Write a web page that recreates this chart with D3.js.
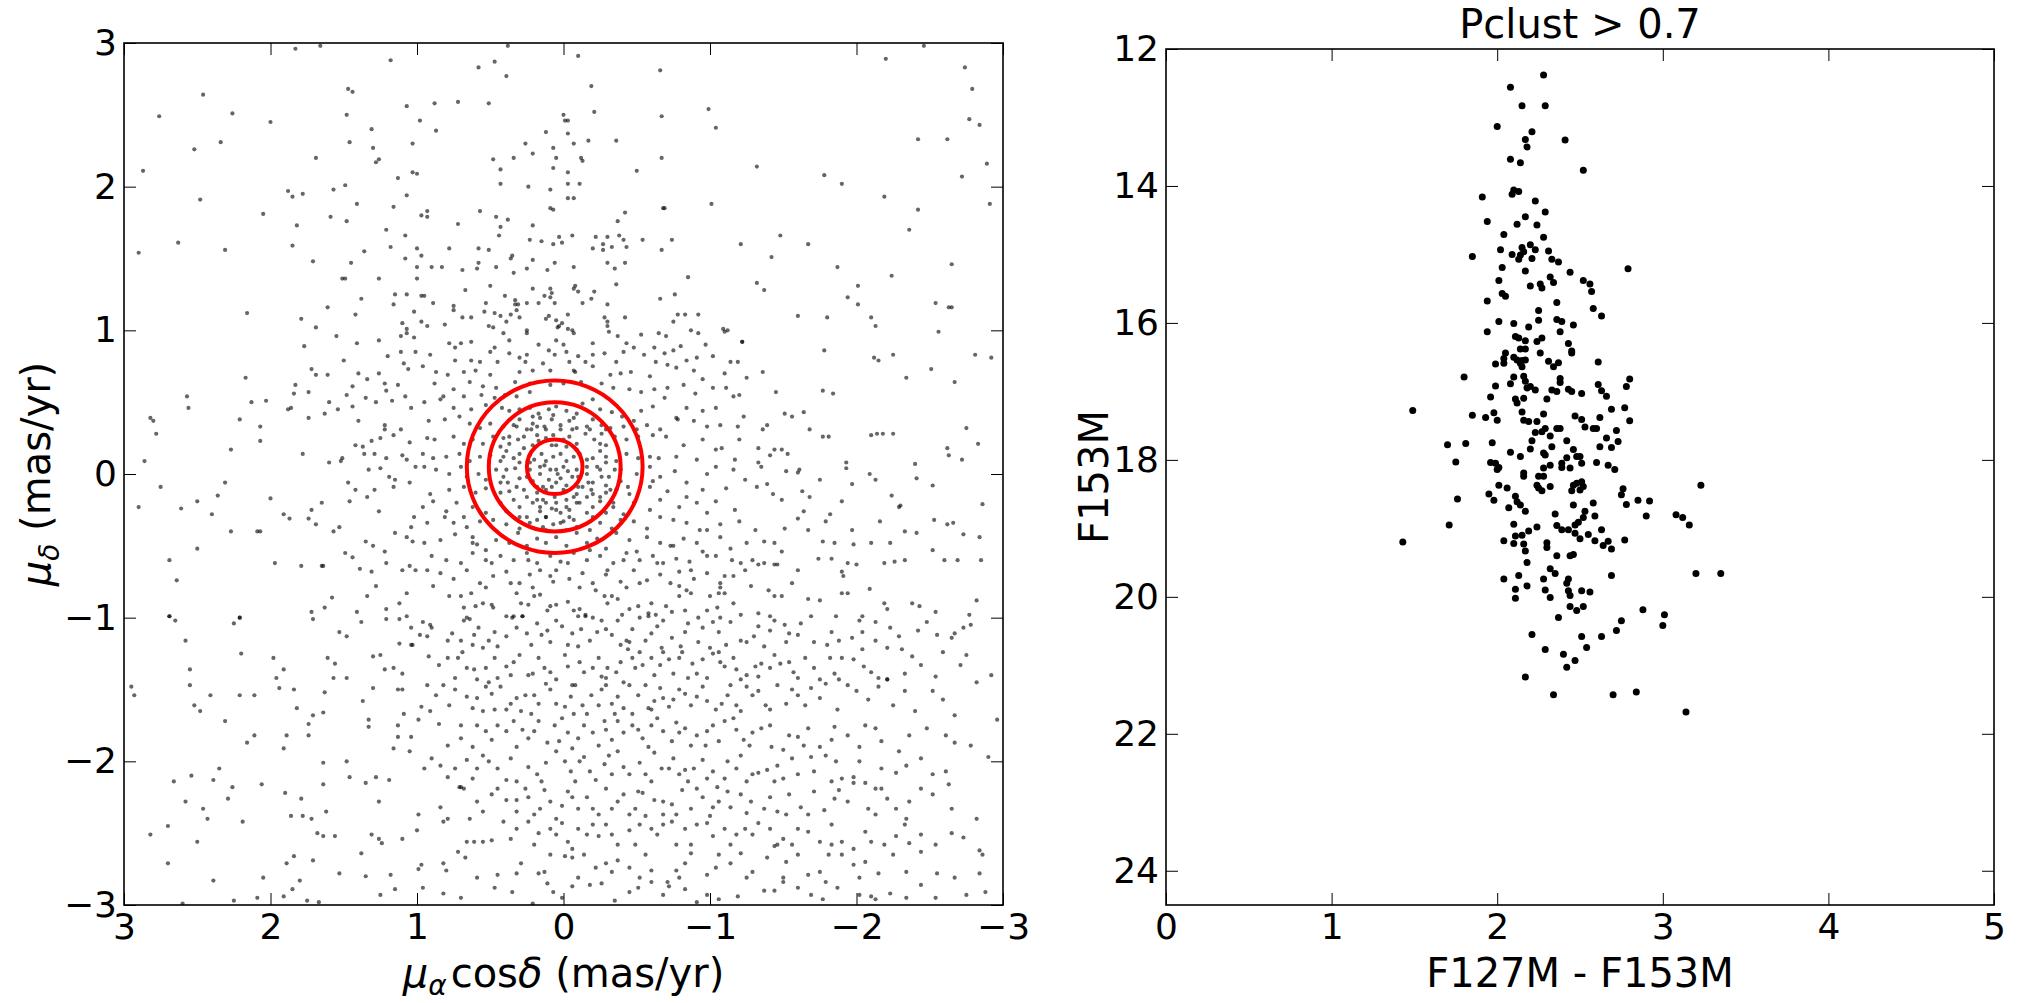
<!DOCTYPE html>
<html>
<head>
<meta charset="utf-8">
<script src="https://cdn.jsdelivr.net/npm/d3@7"></script>
<style>
  body { margin: 0; background: #fff; }
  svg text { font-family: 'DejaVu Sans', sans-serif; }
</style>
</head>
<body>
<svg id="chart" width="2024" height="1003"></svg>
<script>
// proper motions (mas/yr), [mu_alpha cos delta, mu_delta]
const pmTop = [[1.83,2.96],[1.66,2.98],[0.38,2.98],[-0.10,2.91],[-2.46,2.98],[1.18,2.88],[0.58,2.83],[0.47,2.87],[0.39,2.77],[-0.66,2.81],[-2.20,2.89],[-2.74,2.83],[-2.79,2.68],[2.46,2.64],[1.47,2.68],[1.44,2.66],[-0.19,2.70],[2.76,2.49],[2.26,2.51],[2.00,2.45],[1.48,2.50],[1.07,2.56],[0.88,2.58],[0.72,2.59],[0.51,2.58],[0.00,2.50],[-0.01,2.46],[-0.03,2.46],[-0.21,2.52],[-0.67,2.49],[-0.99,2.54],[-1.04,2.41],[-2.77,2.47],[-2.84,2.43],[0.98,2.46],[0.87,2.39],[1.31,2.40],[2.52,2.26],[2.34,2.31],[1.46,2.31],[1.03,2.30],[1.30,2.27],[0.12,2.38],[0.26,2.30],[0.07,2.27],[-0.03,2.37],[-0.07,2.30],[-0.17,2.32],[-0.36,2.32],[-2.42,2.33],[-2.62,2.33],[2.87,2.11],[1.69,2.20],[1.28,2.17],[1.26,2.19],[1.03,2.10],[1.00,2.09],[1.13,2.06],[0.48,2.19],[0.43,2.12],[0.34,2.20],[0.21,2.23],[0.05,2.20],[0.07,2.13],[-0.03,2.10],[-0.12,2.20],[-0.13,2.18],[-0.50,2.11],[-0.67,2.20],[-1.32,2.14],[-1.78,2.08],[-1.90,2.02],[-2.72,2.07],[-2.89,2.16],[2.48,1.91],[1.88,1.97],[1.85,1.93],[1.78,1.95],[1.57,1.98],[1.49,2.01],[1.41,1.88],[1.07,1.94],[0.43,2.02],[0.24,2.00],[0.09,1.98],[-0.03,2.02],[-0.11,2.02],[-0.03,1.92],[-0.07,1.92],[-1.01,1.88],[-2.19,1.93],[-2.91,1.88],[2.05,1.81],[1.82,1.73],[1.59,1.79],[1.48,1.76],[1.16,1.86],[0.97,1.80],[0.93,1.83],[0.93,1.79],[0.72,1.74],[0.57,1.83],[0.46,1.79],[0.38,1.77],[0.43,1.72],[0.09,1.85],[0.07,1.84],[0.21,1.73],[-0.37,1.76],[-0.42,1.82],[-0.68,1.85],[-0.69,1.85],[-2.42,1.84],[-2.36,1.70],[2.90,1.54],[2.63,1.61],[2.31,1.56],[1.85,1.59],[1.71,1.48],[1.45,1.47],[1.36,1.55],[1.21,1.70],[1.08,1.66],[1.18,1.58],[1.08,1.50],[1.00,1.57],[0.97,1.52],[1.00,1.44],[0.90,1.44],[0.83,1.44],[0.78,1.57],[0.69,1.42],[0.58,1.57],[0.58,1.47],[0.59,1.43],[0.51,1.56],[0.44,1.66],[0.46,1.44],[0.36,1.50],[0.35,1.52],[0.34,1.40],[0.25,1.43],[0.23,1.63],[0.21,1.49],[0.15,1.62],[0.11,1.42],[0.07,1.60],[0.06,1.47],[0.03,1.65],[0.01,1.61],[-0.06,1.66],[-0.07,1.44],[-0.20,1.57],[-0.22,1.65],[-0.27,1.60],[-0.27,1.56],[-0.30,1.65],[-0.33,1.58],[-0.30,1.47],[-0.35,1.43],[-0.38,1.66],[-0.41,1.63],[-0.43,1.58],[-0.42,1.47],[-0.54,1.63],[-0.67,1.56],[-0.74,1.63],[-1.21,1.60],[-1.42,1.51],[-1.48,1.66],[-1.67,1.60],[-1.87,1.44],[-2.24,1.38],[-2.65,1.46],[1.51,1.36],[1.49,1.36],[1.26,1.36],[1.00,1.36],[2.16,1.12],[1.79,1.08],[1.69,1.02],[1.61,1.16],[1.42,1.11],[1.38,1.22],[1.16,1.18],[1.15,1.25],[1.07,1.25],[1.02,1.13],[0.97,1.24],[0.95,1.24],[0.89,1.19],[1.10,1.05],[1.07,1.01],[0.97,1.06],[0.93,1.03],[0.81,1.04],[0.75,1.17],[0.75,1.14],[0.69,1.09],[0.63,1.09],[0.67,1.28],[0.53,1.19],[0.50,1.31],[0.54,1.13],[0.47,1.12],[0.51,1.03],[0.48,1.02],[0.43,1.10],[0.39,1.06],[0.40,1.24],[0.36,1.11],[0.33,1.21],[0.33,1.18],[0.31,1.18],[0.32,1.14],[0.30,1.09],[0.25,1.19],[0.25,1.00],[0.21,1.29],[0.17,1.19],[0.13,1.24],[0.12,1.08],[0.10,1.10],[0.09,1.29],[0.08,1.26],[0.09,1.23],[0.06,1.19],[0.05,1.07],[0.03,1.03],[0.01,1.05],[0.04,1.02],[-0.03,1.11],[-0.03,1.01],[-0.06,1.00],[-0.07,1.29],[-0.08,1.31],[-0.10,1.27],[-0.13,1.19],[-0.19,1.22],[-0.21,1.27],[-0.28,1.09],[-0.30,1.06],[-0.30,1.03],[-0.30,1.18],[-0.36,1.32],[-0.42,1.09],[-0.66,1.22],[-0.76,1.25],[-0.78,1.11],[-0.83,1.11],[-0.92,1.11],[-0.75,1.06],[-0.85,1.37],[-0.87,1.00],[-1.09,1.01],[-1.12,1.00],[-1.32,1.33],[-1.37,1.28],[-1.60,1.10],[-1.80,1.09],[-1.94,1.23],[-2.01,1.31],[-2.01,1.18],[-2.10,1.09],[-2.13,1.03],[-2.54,1.19],[-2.63,1.16],[-2.65,1.16],[-2.56,0.99]];

const pmWings = [[1.55,0.96],[1.41,0.91],[1.26,0.93],[1.11,0.96],[1.07,0.98],[1.02,0.95],[1.77,0.89],[1.20,0.82],[1.11,0.85],[1.01,0.85],[1.50,0.79],[1.09,0.77],[1.72,0.73],[1.69,0.69],[1.61,0.69],[2.17,0.67],[1.40,0.70],[1.34,0.66],[1.26,0.70],[1.22,0.63],[1.13,0.62],[1.06,0.73],[1.83,0.62],[1.74,0.57],[1.84,0.56],[2.57,0.54],[2.56,0.46],[2.13,0.50],[2.03,0.51],[1.88,0.45],[1.86,0.46],[1.60,0.50],[1.48,0.55],[1.44,0.61],[1.44,0.47],[1.35,0.53],[1.28,0.50],[1.21,0.58],[1.17,0.51],[1.08,0.54],[1.04,0.46],[2.82,0.39],[2.80,0.37],[2.78,0.28],[2.21,0.38],[2.07,0.33],[2.07,0.23],[1.74,0.39],[1.63,0.42],[1.54,0.45],[1.40,0.37],[1.31,0.23],[1.25,0.25],[1.22,0.34],[1.22,0.31],[1.16,0.27],[1.11,0.31],[1.05,0.22],[2.86,0.09],[2.27,0.17],[1.78,0.14],[1.51,0.11],[1.52,0.09],[1.60,0.08],[1.42,0.20],[1.37,0.19],[1.36,0.14],[1.29,0.14],[1.21,0.11],[1.33,0.03],[1.25,0.04],[1.19,-0.02],[1.15,-0.04],[1.10,0.13],[1.07,0.10],[1.01,0.05],[2.75,-0.09],[2.31,-0.06],[2.90,-0.23],[2.61,-0.24],[2.50,-0.19],[2.40,-0.28],[2.36,-0.15],[2.00,-0.17],[1.91,-0.28],[1.87,-0.31],[1.74,-0.31],[1.72,-0.25],[1.69,-0.35],[1.65,-0.20],[1.57,-0.40],[1.53,-0.37],[1.47,-0.06],[1.46,-0.19],[1.42,-0.11],[1.34,-0.16],[1.29,-0.11],[1.26,-0.26],[2.27,-0.40],[2.09,-0.40],[2.07,-0.40],[2.50,-0.52],[2.69,-0.60],[2.64,-0.74],[1.97,-0.62],[1.79,-0.64],[1.65,-0.64],[1.64,-0.64],[1.49,-0.55],[1.44,-0.58],[1.35,-0.47],[1.30,-0.50],[1.22,-0.54],[1.15,-0.41],[1.07,-0.44],[1.03,-0.47],[1.39,-0.66],[1.31,-0.68],[1.21,-0.62],[1.10,-0.67],[1.05,-0.64],[1.01,-0.67],[1.58,-0.86],[1.34,-0.85],[1.28,-0.78],[1.07,-0.83],[2.69,-0.99],[2.21,-1.00],[1.72,-0.96],[1.63,-0.93],[1.41,-0.96],[1.21,-0.94],[1.12,-0.90],[1.07,-0.99],[1.16,-0.09],[1.05,-0.06],[1.02,-0.30],[1.04,-0.37],
  [-1.22,0.92],[-1.36,0.71],[-1.25,0.67],[-1.45,0.57],[-1.78,0.86],[-1.77,0.58],[-1.84,0.56],[-2.12,0.81],[-2.15,0.79],[-2.25,0.83],[-2.34,0.67],[-2.51,0.73],[-2.67,0.64],[-2.81,0.83],[-2.92,0.81],[-1.51,0.42],[-1.56,0.40],[-1.64,0.43],[-1.39,0.34],[-1.36,0.31],[-1.68,0.31],[-1.77,0.26],[-1.81,0.26],[-2.10,0.27],[-2.14,0.28],[-2.18,0.28],[-2.25,0.28],[-2.75,0.32],[-2.83,0.21],[-1.33,0.18],[-1.44,0.17],[-1.49,0.17],[-1.53,0.14],[-1.41,0.13],[-1.33,0.08],[-1.35,0.05],[-1.52,0.02],[-1.60,0.01],[-1.61,0.03],[-1.75,-0.04],[-1.93,0.08],[-1.93,0.04],[-1.97,-0.07],[-2.09,0.00],[-2.13,-0.04],[-2.40,0.07],[-2.41,-0.03],[-2.62,0.18],[-2.63,0.13],[-2.72,0.10],[-2.52,-0.08],[-1.32,-0.09],[-1.39,-0.07],[-1.43,-0.14],[-1.49,-0.18],[-1.63,-0.12],[-1.64,-0.26],[-1.68,-0.16],[-1.90,-0.19],[-1.82,-0.28],[-1.79,-0.33],[-2.24,-0.15],[-2.30,-0.22],[-2.29,-0.23],[-2.16,-0.33],[-2.53,-0.32],[-2.62,-0.35],[-2.66,-0.34],[-2.86,-0.21],[-1.31,-0.39],[-1.37,-0.47],[-1.44,-0.48],[-1.51,-0.38],[-1.60,-0.31],[-1.67,-0.39],[-1.77,-0.47],[-1.85,-0.48],[-1.97,-0.39],[-1.98,-0.49],[-2.10,-0.48],[-2.23,-0.48],[-2.33,-0.40],[-2.41,-0.41],[-2.73,-0.42],[-2.84,-0.44],[-1.29,-0.60],[-1.33,-0.63],[-1.37,-0.62],[-1.44,-0.63],[-1.46,-0.63],[-1.49,-0.54],[-1.60,-0.67],[-1.74,-0.59],[-1.83,-0.59],[-1.90,-0.68],[-1.91,-0.71],[-1.94,-0.62],[-2.00,-0.63],[-2.19,-0.62],[-2.26,-0.61],[-2.33,-0.60],[-2.52,-0.53],[-2.60,-0.60],[-2.69,-0.60],[-2.85,-0.60],[-1.28,-0.78],[-1.40,-0.81],[-1.44,-0.85],[-1.49,-0.85],[-1.56,-0.76],[-1.67,-0.87],[-1.75,-0.88],[-1.90,-0.83],[-1.94,-0.83],[-2.09,-0.80],[-2.19,-0.90],[-2.21,-0.94],[-2.38,-0.90],[-2.43,-0.92],[-2.82,-0.88],[-1.33,-0.97],[-1.41,-0.99],[-1.69,-0.99],[-1.86,-0.99],[-2.04,-0.99],[-2.54,-0.96],[-2.77,-0.98],
  [0.78,-0.85],[0.70,-0.85],[0.63,-0.83],[0.68,-0.93],[0.66,-1.00],[0.60,-0.92],[0.49,-0.91],[0.48,-0.93],[0.39,-0.99],[0.34,-0.99],[0.28,-0.99],[0.29,-0.90],[0.24,-0.91],[0.20,-0.85],[0.11,-0.95],[0.05,-0.91],[-0.03,-0.89],[-0.07,-0.95],[-0.11,-0.94],[-0.15,-0.98],[-0.20,-1.00],[-0.28,-0.85],[-0.33,-0.85],[-0.37,-0.87],[-0.45,-0.94],[-0.51,-0.92],[-0.58,-0.97],[-0.63,-0.98],[-0.70,-0.92],[-0.74,-0.96],[-0.79,-0.85],[-0.84,-0.81],[-0.87,-0.83],[-0.92,-1.00],[-0.98,-0.95],[-1.05,-0.93],[-1.07,-1.00],[-1.16,-0.90],[-1.21,-0.98],[0.16,-0.84],[0.09,-0.92],[-0.30,-0.90],[-0.40,-0.98],[-1.00,-0.85],[-1.10,-0.83]];

const pmCore = [[0.41,0.98],[0.37,0.93],[0.47,0.88],[0.50,0.85],[0.25,0.98],[0.17,0.90],[0.05,0.93],[0.00,0.90],[-0.07,0.98],[-0.20,0.91],[-0.31,0.99],[-0.37,0.96],[-0.43,0.91],[-0.53,0.97],[-0.65,0.98],[-0.70,0.96],[-0.62,0.88],[-0.69,0.84],[-0.92,0.98],[-1.10,0.99],[-1.22,0.92],[0.78,0.91],[0.74,0.88],[0.70,0.91],[0.63,0.92],[0.37,0.84],[0.30,0.81],[0.25,0.83],[0.10,0.86],[0.06,0.83],[-0.02,0.85],[-0.10,0.82],[-0.20,0.83],[-0.28,0.84],[-0.41,0.85],[-0.48,0.88],[-0.55,0.83],[-0.75,0.86],[-0.80,0.89],[-0.84,0.79],[-0.97,0.90],[-1.02,0.82],[-1.14,0.78],[0.91,0.83],[0.74,0.79],[0.63,0.79],[0.57,0.78],[0.45,0.78],[0.26,0.78],[0.14,0.77],[-0.04,0.78],[-0.15,0.78],[-0.36,0.78],[-0.63,0.78],[-0.91,0.81],
  [0.96,0.75],[0.87,0.71],[0.79,0.69],[0.68,0.71],[0.60,0.72],[0.50,0.69],[0.30,0.71],[0.21,0.72],[0.09,0.72],[-0.07,0.72],[-0.08,0.71],[-0.20,0.75],[-0.32,0.69],[-0.39,0.70],[-0.46,0.71],[-0.59,0.68],[-0.71,0.76],[-0.77,0.74],[-0.89,0.72],[-0.95,0.66],[-1.10,0.70],[-1.19,0.78],[0.88,0.63],[0.82,0.54],[0.75,0.59],[0.64,0.64],[0.55,0.61],[0.46,0.60],[0.33,0.64],[0.23,0.63],[0.09,0.62],[0.00,0.63],[-0.12,0.64],[-0.26,0.63],[-0.34,0.60],[-0.45,0.59],[-0.53,0.57],[-0.62,0.59],[-0.71,0.60],[-0.82,0.62],[-0.90,0.56],[-1.02,0.60],[-1.11,0.60],[-1.20,0.55],[0.95,0.50],[0.68,0.54],[0.56,0.55],[0.47,0.53],[0.40,0.55],[0.32,0.54],[0.23,0.57],
  [0.84,0.52],[0.75,0.46],[0.71,0.40],[0.63,0.45],[0.53,0.48],[0.42,0.46],[0.37,0.44],[0.30,0.45],[0.23,0.46],[0.17,0.42],[0.10,0.45],[0.05,0.47],[-0.02,0.44],[-0.09,0.42],[-0.13,0.49],[-0.20,0.52],[-0.25,0.45],[-0.33,0.43],[-0.40,0.40],[-0.48,0.37],[-0.53,0.44],[-0.61,0.47],[-0.69,0.53],[-0.77,0.39],[-0.84,0.46],[-0.95,0.44],[-1.04,0.46],[-1.16,0.54],[-1.23,0.40],[0.92,0.37],[0.81,0.38],[0.64,0.35],[0.57,0.32],[0.50,0.35],[0.41,0.33],[0.34,0.34],[0.30,0.38],[0.25,0.31],[0.21,0.35],[0.16,0.39],[0.13,0.33],[0.08,0.38],[0.02,0.34],[-0.04,0.37],[-0.09,0.32],[-0.16,0.33],[-0.20,0.38],[-0.26,0.34],[-0.32,0.32],[-0.41,0.33],[-0.50,0.31],[-0.57,0.34],[-0.66,0.31],[-0.78,0.38],[-0.89,0.37],[-0.98,0.33],[-1.07,0.34],[-1.19,0.33],
  [0.93,0.25],[0.88,0.24],[0.75,0.26],[0.68,0.21],[0.62,0.24],[0.55,0.21],[0.48,0.26],[0.41,0.25],[0.37,0.21],[0.31,0.24],[0.27,0.18],[0.22,0.31],[0.18,0.27],[0.17,0.23],[0.12,0.25],[0.07,0.27],[0.05,0.20],[0.00,0.24],[-0.04,0.26],[-0.09,0.21],[-0.15,0.28],[-0.21,0.24],[-0.26,0.28],[-0.29,0.20],[-0.35,0.26],[-0.43,0.24],[-0.51,0.26],[-0.61,0.27],[-0.70,0.26],[-0.82,0.20],[-0.95,0.24],[-1.08,0.18],[-1.20,0.24],[0.96,0.14],[0.89,0.11],[0.80,0.12],[0.71,0.14],[0.64,0.09],[0.57,0.12],[0.50,0.13],[0.43,0.09],[0.39,0.16],[0.34,0.11],[0.30,0.14],[0.23,0.13],[0.20,0.10],[0.15,0.14],[0.12,0.09],[0.07,0.12],[0.02,0.14],[-0.02,0.09],[-0.07,0.12],[-0.11,0.14],[-0.16,0.10],[-0.20,0.11],[-0.25,0.16],[-0.29,0.12],[-0.36,0.09],[-0.43,0.14],[-0.51,0.11],[-0.59,0.12],[-0.65,0.11],[-0.77,0.12],[-0.91,0.10],[-1.04,0.17],[-1.17,0.10],
  [0.95,0.05],[0.87,0.03],[0.78,0.00],[0.70,0.05],[0.66,-0.02],[0.58,0.00],[0.53,-0.04],[0.46,0.03],[0.41,-0.02],[0.38,-0.06],[0.33,0.04],[0.30,-0.03],[0.23,0.03],[0.21,-0.05],[0.16,0.00],[0.13,0.06],[0.10,-0.04],[0.08,-0.09],[0.05,0.03],[0.02,-0.03],[0.00,0.05],[-0.02,-0.08],[-0.06,-0.02],[-0.09,0.03],[-0.10,-0.09],[-0.16,0.00],[-0.17,-0.06],[-0.19,-0.11],[-0.23,0.05],[-0.26,-0.02],[-0.29,-0.08],[-0.35,0.03],[-0.39,-0.05],[-0.44,-0.09],[-0.50,0.00],[-0.59,0.05],[-0.61,-0.05],[-0.66,-0.02],[-0.76,0.02],[-0.84,-0.06],[-0.98,0.00],[-1.04,0.05],[-1.16,0.03],[-1.24,-0.04],[0.91,-0.14],[0.78,-0.11],[0.68,-0.09],[0.60,-0.13],[0.53,-0.10],[0.43,-0.13],[0.37,-0.12],[0.27,-0.11],[0.18,-0.13],[0.14,-0.09],[0.06,-0.16],[-0.02,-0.12],[-0.09,-0.14],[-0.20,-0.14],[-0.29,-0.13],[-0.36,-0.11],[-0.45,-0.14],[-0.59,-0.09],[-0.71,-0.12],[-0.84,-0.16],[-0.95,-0.11],[-1.11,-0.10],
  [0.96,-0.23],[0.89,-0.19],[0.80,-0.26],[0.73,-0.20],[0.68,-0.30],[0.62,-0.23],[0.53,-0.27],[0.43,-0.20],[0.39,-0.26],[0.34,-0.18],[0.30,-0.23],[0.25,-0.30],[0.21,-0.20],[0.16,-0.26],[0.14,-0.18],[0.12,-0.30],[0.08,-0.24],[0.05,-0.20],[0.02,-0.27],[-0.02,-0.18],[-0.04,-0.25],[-0.07,-0.32],[-0.11,-0.20],[-0.16,-0.27],[-0.20,-0.23],[-0.25,-0.19],[-0.29,-0.27],[-0.34,-0.23],[-0.41,-0.28],[-0.48,-0.20],[-0.59,-0.25],[-0.66,-0.18],[-0.79,-0.23],[-0.91,-0.20],[-0.98,-0.27],[-1.04,-0.19],[-1.17,-0.25],[0.93,-0.34],[0.81,-0.30],[0.75,-0.34],[0.66,-0.37],[0.57,-0.33],[0.48,-0.32],[0.39,-0.35],[0.30,-0.38],[0.23,-0.34],[0.18,-0.32],[0.14,-0.37],[0.07,-0.35],[0.00,-0.33],[-0.09,-0.37],[-0.18,-0.39],[-0.25,-0.34],[-0.33,-0.38],[-0.39,-0.32],[-0.48,-0.33],[-0.57,-0.38],[-0.66,-0.30],[-0.75,-0.32],[-0.84,-0.34],[-0.93,-0.39],[-1.07,-0.35],[-1.20,-0.33],
  [0.95,-0.48],[0.84,-0.46],[0.74,-0.42],[0.62,-0.44],[0.59,-0.49],[0.53,-0.53],[0.46,-0.46],[0.37,-0.48],[0.31,-0.41],[0.25,-0.50],[0.18,-0.45],[0.12,-0.48],[0.05,-0.44],[-0.02,-0.50],[-0.09,-0.41],[-0.16,-0.48],[-0.23,-0.45],[-0.29,-0.52],[-0.36,-0.41],[-0.45,-0.46],[-0.50,-0.54],[-0.57,-0.44],[-0.66,-0.48],[-0.73,-0.50],[-0.82,-0.45],[-0.91,-0.48],[-0.98,-0.39],[-1.07,-0.44],[-1.14,-0.52],[-1.25,-0.48],[0.90,-0.57],[0.80,-0.60],[0.70,-0.62],[0.62,-0.55],[0.53,-0.60],[0.43,-0.57],[0.34,-0.60],[0.25,-0.55],[0.18,-0.62],[0.09,-0.57],[0.02,-0.61],[-0.07,-0.55],[-0.16,-0.60],[-0.25,-0.57],[-0.34,-0.62],[-0.43,-0.55],[-0.52,-0.60],[-0.61,-0.57],[-0.68,-0.62],[-0.77,-0.59],[-0.86,-0.61],[-0.95,-0.54],[-1.04,-0.57],[-1.15,-0.60],
  [0.93,-0.67],[0.84,-0.69],[0.75,-0.73],[0.66,-0.67],[0.57,-0.76],[0.48,-0.71],[0.39,-0.68],[0.30,-0.76],[0.23,-0.70],[0.16,-0.67],[0.07,-0.75],[0.05,-0.67],[-0.04,-0.73],[-0.13,-0.69],[-0.20,-0.76],[-0.29,-0.70],[-0.39,-0.75],[-0.48,-0.67],[-0.57,-0.74],[-0.66,-0.70],[-0.73,-0.76],[-0.79,-0.68],[-0.89,-0.73],[-0.98,-0.69],[-1.07,-0.76],[-1.16,-0.71],[-1.24,-0.67],[0.89,-0.78],[0.53,-0.79],[0.21,-0.79],[-0.11,-0.79],[-0.43,-0.79],[-0.79,-0.78],[-1.07,-0.79],
  [0.18,0.33],[0.12,0.31],[0.02,0.31],[-0.06,0.31],[0.27,0.26],[0.21,0.20],[0.08,0.20],[-0.02,0.19],[-0.09,0.17],[0.30,0.08],[0.23,0.08],[0.16,0.05],[0.09,0.03],[0.04,0.00],[-0.03,0.02],[-0.10,-0.02],[-0.16,0.05],[0.25,-0.02],[0.18,-0.09],[0.12,-0.11],[0.05,-0.06],[0.00,-0.11],[-0.07,-0.16],[-0.13,-0.09],[0.32,-0.09],[0.25,-0.16],[0.18,-0.18],[0.12,-0.20],[0.05,-0.25],[-0.02,-0.23],[-0.09,-0.20],[-0.16,-0.16],[-0.20,-0.06],[-0.25,0.03],[-0.29,0.08],[0.39,0.03],[0.41,0.12],[0.37,0.26],[0.32,0.33],[0.21,0.40],[0.07,0.41],[-0.07,0.39],[-0.18,0.31],[-0.25,0.21],[-0.31,-0.02],[-0.32,-0.11],[-0.25,-0.16],[0.12,-0.30],[0.02,-0.34],[-0.04,-0.30],[0.16,-0.23],[-0.20,-0.30],[0.30,-0.30],[0.43,-0.06],[0.43,0.19],[-0.29,0.31],[-0.39,0.03],[-0.34,-0.20],[-0.02,-0.39],[0.12,-0.39]];

const pmLower = [[2.69,-0.99],[2.65,-1.02],[2.25,-1.04],[2.21,-1.00],[1.71,-1.01],[1.53,-1.10],[1.48,-1.13],[1.38,-1.03],[1.21,-1.01],[1.12,-1.01],[1.04,-1.07],[0.96,-1.03],[0.90,-1.07],[0.98,-1.12],[0.93,-1.13],[0.79,-1.16],[0.68,-1.02],[0.64,-1.01],[0.58,-1.07],[0.70,-1.16],[0.62,-1.19],[0.51,-1.16],[0.47,-1.10],[0.39,-1.13],[0.35,-1.00],[0.28,-0.99],[0.32,-1.07],[0.25,-1.11],[0.18,-1.04],[0.11,-1.09],[0.01,-1.06],[-0.06,-1.11],[-0.10,-0.99],[-0.15,-0.99],[-0.18,-1.16],[-0.26,-1.02],[-0.29,-1.08],[-0.37,-1.02],[-0.33,-1.12],[-0.45,-1.17],[-0.43,-1.16],[-0.52,-1.00],[-0.58,-0.99],[-0.64,-1.06],[-0.68,-1.02],[-0.60,-1.11],[-0.74,-1.14],[-0.85,-1.04],[-0.83,-1.10],[-0.95,-1.07],[-1.02,-1.03],[-1.06,-1.10],[-1.14,-1.03],[-1.21,-1.16],[-1.25,-1.17],[-1.33,-1.06],[-1.37,-1.20],[-1.44,-1.02],[-1.54,-1.11],[-1.52,-1.17],[-1.62,-1.04],[-1.71,-1.17],[-1.83,-1.10],[-1.88,-1.16],[-2.02,-1.02],[-2.04,-1.10],[-2.13,-1.03],[-2.23,-1.07],[-2.42,-1.09],[-2.55,-1.12],[-2.65,-1.14],[-2.67,-1.11],[-2.73,-1.07],[-2.78,-1.05],[2.58,-1.16],[1.03,-1.19],[1.12,-1.18],[0.55,-1.21],[0.09,-1.17],[-0.10,-1.20],
  [2.20,-1.25],[1.98,-1.28],[1.61,-1.28],[1.56,-1.32],[1.30,-1.27],[1.25,-1.26],[1.22,-1.36],[1.16,-1.35],[1.04,-1.19],[0.92,-1.27],[0.79,-1.28],[0.74,-1.42],[0.69,-1.24],[0.66,-1.35],[0.59,-1.43],[0.53,-1.35],[0.47,-1.28],[0.45,-1.42],[0.39,-1.34],[0.34,-1.31],[0.24,-1.40],[0.21,-1.39],[0.13,-1.35],[0.09,-1.38],[-0.03,-1.34],[-0.06,-1.47],[-0.14,-1.38],[-0.20,-1.35],[-0.26,-1.41],[-0.30,-1.35],[-0.36,-1.38],[-0.41,-1.45],[-0.47,-1.28],[-0.49,-1.35],[-0.52,-1.24],[-0.60,-1.28],[-0.62,-1.40],[-0.68,-1.24],[-0.72,-1.29],[-0.79,-1.28],[-0.85,-1.42],[-0.91,-1.39],[-0.95,-1.29],[-1.02,-1.25],[-1.07,-1.31],[-1.10,-1.34],[-1.18,-1.36],[-1.25,-1.40],[-1.31,-1.34],[-1.35,-1.32],[-1.41,-1.35],[-1.48,-1.32],[-1.54,-1.31],[-1.60,-1.42],[-1.65,-1.28],[-1.75,-1.43],[-1.82,-1.28],[-1.90,-1.28],[-1.98,-1.29],[-2.05,-1.34],[-2.15,-1.42],[-2.21,-1.43],[-2.33,-1.39],[-2.44,-1.33],[-2.54,-1.41],[-2.71,-1.33],[-2.75,-1.26],[-2.92,-1.40],[-2.31,-1.22],[-2.21,-1.21],[-2.04,-1.22],[2.55,-1.36],[2.55,-1.47],[1.96,-1.42],[1.91,-1.36],[1.57,-1.42],[1.48,-1.42],[1.10,-1.39],
  [2.95,-1.48],[2.93,-1.54],[2.41,-1.54],[2.21,-1.54],[2.11,-1.54],[1.94,-1.49],[1.84,-1.50],[1.63,-1.52],[1.37,-1.58],[1.30,-1.49],[1.13,-1.50],[1.10,-1.50],[0.93,-1.47],[0.82,-1.47],[0.87,-1.54],[0.78,-1.61],[0.66,-1.55],[0.59,-1.56],[0.49,-1.53],[0.43,-1.48],[0.32,-1.56],[0.26,-1.54],[0.20,-1.54],[0.12,-1.46],[0.05,-1.60],[-0.01,-1.62],[-0.08,-1.47],[-0.19,-1.54],[-0.24,-1.61],[-0.29,-1.47],[-0.37,-1.55],[-0.45,-1.47],[-0.47,-1.67],[-0.56,-1.47],[-0.62,-1.58],[-0.68,-1.56],[-0.72,-1.62],[-0.79,-1.50],[-0.83,-1.53],[-0.91,-1.55],[-0.98,-1.58],[-1.04,-1.64],[-1.12,-1.54],[-1.18,-1.61],[-1.25,-1.48],[-1.29,-1.54],[-1.38,-1.61],[-1.46,-1.47],[-1.52,-1.60],[-1.60,-1.54],[-1.69,-1.49],[-1.79,-1.46],[-1.88,-1.43],[-1.94,-1.47],[-2.08,-1.57],[-2.15,-1.48],[-2.21,-1.43],[-2.33,-1.51],[-2.40,-1.65],[-2.52,-1.51],[-2.67,-1.68],[-2.82,-1.45],[-2.96,-1.71],[2.52,-1.61],[2.48,-1.65],[2.31,-1.72],[1.82,-1.63],[1.64,-1.66],[1.71,-1.68],[1.33,-1.71],[1.09,-1.67],[0.97,-1.62],[0.91,-1.65],[0.55,-1.65],[0.47,-1.64],[0.39,-1.64],[0.22,-1.67],[-0.07,-1.67],[-0.16,-1.67],[-0.35,-1.67],[-0.60,-1.64],
  [2.16,-1.87],[2.11,-1.82],[1.89,-1.82],[1.91,-1.91],[1.74,-1.74],[1.74,-1.82],[1.33,-1.76],[1.13,-1.75],[1.13,-1.83],[1.04,-1.83],[0.99,-1.71],[0.85,-1.74],[0.79,-1.89],[0.70,-1.84],[0.59,-1.75],[0.53,-1.79],[0.45,-1.75],[0.34,-1.72],[0.28,-1.78],[0.24,-1.84],[0.17,-1.72],[0.06,-1.75],[0.03,-1.86],[-0.03,-1.80],[-0.06,-1.91],[-0.14,-1.75],[-0.20,-1.80],[-0.28,-1.72],[-0.33,-1.85],[-0.41,-1.80],[-0.47,-1.75],[-0.54,-1.84],[-0.60,-1.75],[-0.68,-1.79],[-0.74,-1.86],[-0.79,-1.80],[-0.83,-1.77],[-0.91,-1.82],[-0.97,-1.89],[-1.02,-1.75],[-1.10,-1.72],[-1.18,-1.78],[-1.23,-1.85],[-1.29,-1.80],[-1.35,-1.77],[-1.42,-1.90],[-1.50,-1.92],[-1.60,-1.83],[-1.67,-1.77],[-1.75,-1.90],[-1.85,-1.76],[-1.94,-1.82],[-2.06,-1.75],[-2.17,-1.86],[-2.29,-1.93],[-2.36,-1.82],[-2.48,-1.77],[-2.61,-1.82],[-2.67,-1.87],[-2.78,-1.89],[-2.90,-1.97],
  [1.64,-2.01],[1.48,-2.00],[1.46,-2.11],[1.35,-2.15],[1.28,-2.11],[1.19,-2.13],[1.16,-1.91],[1.05,-1.93],[0.95,-2.05],[0.90,-1.98],[0.84,-2.03],[0.79,-2.11],[0.70,-2.18],[0.66,-1.99],[0.59,-2.05],[0.51,-2.00],[0.45,-2.05],[0.39,-2.13],[0.32,-2.14],[0.26,-2.19],[0.18,-2.09],[0.12,-2.01],[0.05,-1.93],[-0.01,-2.00],[-0.08,-2.14],[-0.14,-1.97],[-0.18,-2.07],[-0.28,-2.02],[-0.33,-2.09],[-0.37,-1.93],[-0.45,-2.09],[-0.51,-2.21],[-0.56,-2.09],[-0.62,-1.94],[-0.67,-2.05],[-0.72,-2.05],[-0.79,-2.09],[-0.85,-2.14],[-0.89,-2.05],[-0.95,-1.99],[-1.02,-2.07],[-1.05,-2.18],[-1.10,-2.12],[-1.18,-2.05],[-1.25,-2.14],[-1.33,-2.08],[-1.39,-2.06],[-1.46,-2.03],[-1.50,-2.12],[-1.60,-2.09],[-1.69,-1.97],[-1.79,-1.96],[-1.86,-2.00],[-1.90,-2.12],[-1.98,-2.11],[-2.06,-2.15],[-2.13,-2.19],[-2.27,-2.08],[-2.34,-2.03],[-2.44,-1.98],[-2.52,-2.09],[-2.61,-2.07],[-2.63,-2.16],[2.66,-2.14],[2.54,-2.10],[2.39,-2.13],[2.35,-2.05],[2.06,-2.16],[1.64,-2.16],
  [2.58,-2.28],[2.46,-2.33],[2.43,-2.40],[2.29,-2.26],[2.26,-2.18],[2.19,-2.42],[1.90,-2.22],[1.86,-2.38],[1.79,-2.26],[1.78,-2.38],[1.72,-2.40],[1.62,-2.35],[1.26,-2.28],[0.99,-2.37],[0.84,-2.32],[0.79,-2.40],[0.71,-2.18],[0.68,-2.19],[0.64,-2.40],[0.59,-2.28],[0.49,-2.23],[0.39,-2.27],[0.32,-2.35],[0.24,-2.25],[0.16,-2.33],[0.09,-2.28],[0.05,-2.40],[-0.03,-2.21],[-0.10,-2.33],[-0.16,-2.25],[-0.24,-2.37],[-0.33,-2.33],[-0.41,-2.23],[-0.49,-2.33],[-0.56,-2.38],[-0.62,-2.27],[-0.68,-2.37],[-0.74,-2.30],[-0.81,-2.20],[-0.87,-2.33],[-0.95,-2.25],[-1.00,-2.38],[-1.06,-2.28],[-1.14,-2.32],[-1.21,-2.23],[-1.28,-2.28],[-1.37,-2.33],[-1.46,-2.35],[-1.54,-2.23],[-1.62,-2.32],[-1.67,-2.37],[-1.78,-2.34],[-1.85,-2.26],[-1.88,-2.20],[-1.98,-2.15],[-2.08,-2.33],[-2.13,-2.37],[-2.21,-2.26],[-2.27,-2.33],[-2.34,-2.40],[-2.44,-2.19],[-2.52,-2.23],[-2.65,-2.33],[-2.82,-2.40],
  [2.82,-2.51],[2.70,-2.45],[2.50,-2.56],[1.68,-2.50],[1.64,-2.52],[1.56,-2.52],[1.31,-2.51],[1.26,-2.54],[1.24,-2.57],[1.10,-2.54],[1.00,-2.48],[0.82,-2.42],[0.72,-2.63],[0.66,-2.56],[0.61,-2.56],[0.55,-2.56],[0.49,-2.55],[0.41,-2.42],[0.32,-2.47],[0.24,-2.42],[0.17,-2.50],[0.09,-2.47],[0.01,-2.43],[-0.03,-2.56],[-0.10,-2.47],[-0.16,-2.51],[-0.24,-2.52],[-0.29,-2.44],[-0.37,-2.58],[-0.45,-2.48],[-0.52,-2.44],[-0.60,-2.47],[-0.68,-2.44],[-0.77,-2.58],[-0.83,-2.47],[-0.91,-2.44],[-1.02,-2.52],[-1.10,-2.47],[-1.18,-2.51],[-1.24,-2.47],[-1.33,-2.43],[-1.41,-2.47],[-1.44,-2.59],[-1.50,-2.54],[-1.60,-2.47],[-1.67,-2.49],[-1.75,-2.56],[-1.83,-2.58],[-1.90,-2.56],[-1.98,-2.61],[-2.10,-2.56],[-2.19,-2.58],[-2.27,-2.52],[-2.36,-2.57],[-2.44,-2.51],[-2.54,-2.58],[-2.65,-2.50],[-2.73,-2.53],[-2.84,-2.62],
  [2.70,-2.71],[2.39,-2.83],[2.05,-2.81],[1.89,-2.71],[1.84,-2.66],[1.80,-2.83],[1.71,-2.69],[1.53,-2.78],[1.38,-2.64],[1.35,-2.80],[1.18,-2.79],[0.99,-2.75],[0.97,-2.72],[0.82,-2.71],[0.80,-2.76],[0.67,-2.67],[0.59,-2.81],[0.45,-2.79],[0.29,-2.71],[0.17,-2.78],[0.13,-2.77],[0.11,-2.85],[-0.01,-2.66],[-0.06,-2.67],[-0.14,-2.65],[-0.22,-2.74],[-0.29,-2.71],[-0.37,-2.69],[-0.45,-2.74],[-0.52,-2.81],[-0.60,-2.76],[-0.71,-2.84],[-0.77,-2.76],[-0.83,-2.71],[-0.87,-2.64],[-0.98,-2.79],[-1.04,-2.74],[-1.14,-2.71],[-1.21,-2.64],[-1.29,-2.77],[-1.39,-2.67],[-1.46,-2.58],[-1.50,-2.81],[-1.60,-2.65],[-1.67,-2.79],[-1.79,-2.84],[-1.81,-2.65],[-1.90,-2.65],[-1.98,-2.72],[-2.06,-2.70],[-2.15,-2.78],[-2.25,-2.65],[-2.34,-2.77],[-2.44,-2.63],[-2.55,-2.78],[-2.67,-2.81],[-2.84,-2.78],[-2.86,-2.65],
  [2.60,-2.99],[2.25,-2.97],[2.09,-2.95],[1.91,-2.94],[1.85,-2.89],[1.75,-2.97],[1.67,-2.98],[1.25,-2.93],[1.15,-2.89],[0.96,-2.88],[0.82,-2.92],[0.70,-2.95],[0.47,-2.88],[0.35,-2.91],[0.21,-2.99],[0.07,-2.91],[0.01,-2.95],[-0.06,-2.87],[-0.18,-2.86],[-0.26,-2.85],[-0.35,-2.97],[-0.45,-2.91],[-0.51,-2.88],[-0.60,-2.84],[-0.68,-2.93],[-0.72,-2.87],[-0.83,-2.89],[-0.91,-2.98],[-0.98,-2.93],[-1.06,-2.96],[-1.19,-2.94],[-1.37,-2.90],[-1.44,-2.90],[-1.50,-2.84],[-1.60,-2.88],[-1.69,-2.93],[-1.77,-2.96],[-1.87,-2.88],[-2.02,-2.93],[-2.10,-2.94],[-2.13,-2.96],[-2.23,-2.92],[-2.34,-2.95],[-2.44,-2.86],[-2.54,-2.95],[-2.75,-2.93],[-2.88,-2.91]];

// second pass over the crowded field-star lobe below the cluster
const pmFieldDense = [[0.91,-1.05],[0.76,-1.11],[0.61,-1.12],[0.45,-1.20],[0.22,-1.19],[0.15,-1.12],[0.05,-1.02],[-0.03,-1.19],[-0.12,-1.08],[-0.23,-1.10],[-0.39,-1.19],[-0.47,-1.08],[-0.56,-1.16],[-0.67,-1.21],[-0.80,-1.20],[-0.92,-1.17],[-1.00,-1.21],[-1.11,-1.19],[-1.30,-1.13],[-1.41,-1.09],[-1.51,-1.05],[-1.60,-1.12],[-1.80,-1.19],[-1.97,-1.14],[-2.13,-1.16],[-2.29,-1.13],[-2.48,-1.03],
  [0.85,-1.33],[0.72,-1.28],[0.61,-1.36],[0.51,-1.45],[0.36,-1.40],[0.30,-1.26],[0.17,-1.28],[0.05,-1.43],[-0.01,-1.26],[-0.11,-1.31],[-0.24,-1.28],[-0.29,-1.42],[-0.39,-1.31],[-0.44,-1.22],[-0.54,-1.33],[-0.66,-1.33],[-0.75,-1.39],[-0.81,-1.24],[-0.88,-1.32],[-0.98,-1.42],[-1.06,-1.24],[-1.16,-1.28],[-1.21,-1.43],[-1.33,-1.41],[-1.44,-1.26],[-1.57,-1.38],[-1.71,-1.35],[-1.85,-1.39],[-2.10,-1.38],[-2.38,-1.27],[-2.59,-1.24],
  [0.74,-1.50],[0.62,-1.63],[0.53,-1.48],[0.36,-1.60],[0.29,-1.65],[0.17,-1.60],[0.09,-1.50],[-0.05,-1.55],[-0.13,-1.61],[-0.26,-1.50],[-0.33,-1.60],[-0.41,-1.63],[-0.51,-1.54],[-0.58,-1.63],[-0.66,-1.49],[-0.75,-1.57],[-0.87,-1.61],[-0.95,-1.48],[-1.08,-1.60],[-1.14,-1.47],[-1.21,-1.65],[-1.33,-1.51],[-1.41,-1.64],[-1.56,-1.50],[-1.65,-1.61],[-1.75,-1.56],[-1.87,-1.64],[-2.00,-1.51],[-2.25,-1.61],[-2.59,-1.57],
  [0.70,-1.75],[0.62,-1.90],[0.49,-1.85],[0.39,-1.79],[0.32,-1.90],[0.20,-1.79],[0.11,-1.87],[0.01,-1.70],[-0.10,-1.84],[-0.24,-1.89],[-0.29,-1.78],[-0.37,-1.72],[-0.51,-1.78],[-0.58,-1.90],[-0.64,-1.70],[-0.77,-1.73],[-0.87,-1.89],[-0.98,-1.79],[-1.06,-1.86],[-1.16,-1.70],[-1.27,-1.89],[-1.41,-1.75],[-1.54,-1.82],[-1.64,-1.89],[-1.83,-1.85],[-2.02,-1.90],[-2.13,-1.77],
  [0.74,-2.05],[0.62,-2.12],[0.55,-1.96],[0.36,-1.98],[0.24,-2.04],[0.15,-2.14],[-0.05,-2.07],[-0.11,-2.00],[-0.22,-2.13],[-0.31,-1.96],[-0.41,-2.04],[-0.52,-2.01],[-0.60,-2.14],[-0.75,-1.98],[-0.83,-2.06],[-0.98,-2.12],[-1.12,-2.00],[-1.21,-1.96],[-1.29,-2.09],[-1.44,-2.14],[-1.56,-1.98],[-1.71,-2.07],[-1.83,-2.14],[-2.02,-2.00],[-2.17,-2.05],
  [0.55,-2.35],[0.45,-2.19],[0.32,-2.27],[0.20,-2.37],[0.13,-2.20],[0.01,-2.31],[-0.06,-2.25],[-0.20,-2.33],[-0.29,-2.19],[-0.37,-2.28],[-0.45,-2.37],[-0.54,-2.22],[-0.68,-2.28],[-0.77,-2.37],[-0.91,-2.19],[-1.02,-2.32],[-1.12,-2.21],[-1.25,-2.36],[-1.41,-2.25],[-1.52,-2.37],[-1.71,-2.21],[-1.94,-2.28],[-2.17,-2.19],[-2.36,-2.28],
  [0.36,-2.54],[0.20,-2.58],[0.05,-2.51],[-0.06,-2.61],[-0.20,-2.44],[-0.33,-2.51],[-0.49,-2.58],[-0.64,-2.51],[-0.74,-2.42],[-0.87,-2.58],[-0.98,-2.43],[-1.14,-2.58],[-1.29,-2.51],[-1.56,-2.58],[-1.83,-2.44],[-2.06,-2.49],[-2.33,-2.44],
  [0.32,-2.78],[0.09,-2.65],[-0.10,-2.81],[-0.33,-2.77],[-0.56,-2.65],[-0.79,-2.81],[-1.06,-2.65],[-1.25,-2.81],[-1.52,-2.70],[-1.75,-2.77],[-2.02,-2.81],
  [0.62,-0.48],[0.49,-0.62],[0.36,-0.76],[0.24,-0.60],[0.09,-0.71],[-0.03,-0.62],[-0.18,-0.53],[-0.30,-0.67],[-0.41,-0.60],[-0.52,-0.76],[-0.64,-0.62],[-0.75,-0.50],[-0.87,-0.67],[-0.98,-0.57],[-1.10,-0.71],[-1.21,-0.62],[0.55,-0.90],[0.32,-0.83],[-0.22,-0.81],[-0.60,-0.90],[-0.83,-0.95],[-1.06,-0.83]];

// cluster members, [F127M - F153M, F153M]
const cmdStars = [[2.28,12.38],[2.08,12.56],[2.15,12.83],[2.29,12.83],[2.00,13.13],[2.21,13.21],[2.17,13.32],[2.41,13.33],[2.18,13.43],[2.08,13.61],[2.14,13.66],[2.52,13.77],[2.10,14.06],[2.13,14.08],[2.09,14.12],[1.91,14.16],[2.23,14.22],[2.29,14.38],[2.17,14.45],[1.94,14.52],[2.12,14.56],[2.24,14.57],
  [2.04,14.71],[2.28,14.75],[2.02,14.93],[2.15,14.90],[2.16,14.96],[2.14,15.01],[2.09,15.00],[2.20,14.86],[2.23,14.93],[2.13,15.07],[2.21,15.06],[2.31,14.95],[2.33,15.07],[2.37,15.11],[1.85,15.03],[2.03,15.19],[2.17,15.24],[2.44,15.26],[2.79,15.21],[2.01,15.38],[2.32,15.33],[2.34,15.41],[2.26,15.43],[2.27,15.49],[2.20,15.46],[2.52,15.38],[2.56,15.43],[2.57,15.54],[2.03,15.57],[2.05,15.61],[1.94,15.68],[2.36,15.70],[2.58,15.79],[2.63,15.90],[2.25,15.82],[2.25,15.96],[2.36,15.95],[2.39,15.98],[2.01,15.98],[2.10,16.01],[2.19,16.06],[2.46,16.03],[1.94,16.13],[2.38,16.13],[2.11,16.20],[2.13,16.22],[2.17,16.26],[2.24,16.27],[2.27,16.22],[2.43,16.30],[2.14,16.38],[2.17,16.38],[2.45,16.41],[2.45,16.44],[2.26,16.44],[2.05,16.44],[2.04,16.52],[2.10,16.50],[2.12,16.54],[2.15,16.55],[2.17,16.54],[2.14,16.59],[2.15,16.64],[2.04,16.59],[1.99,16.60],[2.31,16.56],[2.34,16.64],[2.37,16.58],[2.61,16.57],[1.80,16.79],[2.10,16.79],[2.16,16.78],[2.17,16.85],[2.38,16.81],[2.38,16.87],[1.99,16.92],[2.08,16.89],[2.18,16.95],[2.23,16.98],[2.20,16.93],[2.33,16.98],[2.36,17.00],[2.43,16.97],[2.45,17.00],[2.51,17.03],[2.61,16.90],[2.63,16.99],[2.66,17.07],[2.78,16.93],[2.80,16.82],[1.96,17.08],[2.11,17.11],[2.16,17.10],[2.30,17.11],
  [2.12,17.17],[1.49,17.28],[1.85,17.35],[1.93,17.38],[1.98,17.31],[2.00,17.42],[2.15,17.30],[2.16,17.42],[2.19,17.44],[2.24,17.44],[2.28,17.33],[2.23,17.60],[2.27,17.59],[2.29,17.54],[2.32,17.65],[2.36,17.54],[2.38,17.54],[2.47,17.36],[2.51,17.41],[2.53,17.52],[2.58,17.54],[2.60,17.54],[2.62,17.38],[2.69,17.26],[2.77,17.24],[2.80,17.43],[2.72,17.57],[2.66,17.68],[2.73,17.73],[2.69,17.82],[2.62,17.81],[1.70,17.78],[1.81,17.76],[1.97,17.75],[2.21,17.72],[2.20,17.84],[2.33,17.81],[2.42,17.72],[2.46,17.85],[2.08,17.89],[2.14,17.95],[2.28,17.90],[2.29,17.93],[2.48,17.95],[2.50,17.95],[2.51,18.05],[2.42,17.97],[2.39,18.05],[2.39,18.11],[2.44,18.12],[2.60,18.04],[2.67,18.08],[2.71,18.14],[1.75,18.03],[1.96,18.04],[1.99,18.05],[2.01,18.11],[2.00,18.14],[2.28,18.12],[2.32,18.08],[2.16,18.19],[2.16,18.24],[2.25,18.24],[2.28,18.24],[2.32,18.39],[2.24,18.37],[2.25,18.41],[2.27,18.45],[2.46,18.37],[2.48,18.34],[2.51,18.32],[2.52,18.39],[2.50,18.44],[2.45,18.45],[2.01,18.37],[2.06,18.41],[3.23,18.37],[2.76,18.42],[2.75,18.51],[2.78,18.65],[2.85,18.59],[2.92,18.60],[1.76,18.57],[1.95,18.50],[1.98,18.59],[2.11,18.53],[2.12,18.61],[2.14,18.66],[2.17,18.75],[2.07,18.70],[2.46,18.66],[2.58,18.63],[2.35,18.79],[2.53,18.75],[2.52,18.84],[2.59,18.82],[2.90,18.82],[3.08,18.80],[3.12,18.84],[3.16,18.95],[1.71,18.95],[2.10,18.94],[2.24,18.98],[2.19,19.04],[2.11,19.11],[2.15,19.10],[2.04,19.18],[2.10,19.22],[2.16,19.23],[2.17,19.33],[2.30,19.21],[2.30,19.28],[2.36,18.96],[2.39,19.02],[2.43,19.02],[2.47,18.95],[2.49,18.91],[2.47,19.07],[2.50,19.15],[2.55,19.09],[2.59,19.18],[2.63,19.02],[2.64,19.25],[2.67,19.19],[2.69,19.30],[2.77,19.17],[1.43,19.20],[2.36,19.40],[2.44,19.40],[2.46,19.38],[2.18,19.50],[2.32,19.59],
  [2.35,19.66],[2.04,19.74],[2.13,19.69],[2.28,19.74],[2.42,19.80],[2.43,19.74],[2.69,19.69],[3.20,19.66],[3.35,19.66],[2.11,19.89],[2.18,19.84],[2.29,19.90],[2.32,20.01],[2.11,20.02],[2.43,19.91],[2.44,19.98],[2.51,19.91],[2.56,19.93],[2.44,20.14],[2.48,20.20],[2.52,20.14],[2.37,20.30],[2.88,20.19],[3.01,20.26],[3.00,20.42],[2.75,20.35],[2.72,20.49],[2.63,20.58],[2.51,20.58],[2.54,20.74],[2.21,20.55],[2.29,20.77],[2.40,20.84],[2.47,20.93],[2.42,21.03],[2.17,21.17],[2.34,21.43],[2.70,21.43],[2.84,21.39],[3.14,21.68]];

const pmTicks = [3, 2, 1, 0, -1, -2, -3];
const colorTicks = [0, 1, 2, 3, 4, 5];
const magTicks = [12, 14, 16, 18, 20, 22, 24];
const ringCenter = [0.06, 0.05];
const ringRadii = [0.19, 0.45, 0.6];

const svg = d3.select('#chart');
const tickFont = 36;
const labelFont = 40;
const xLabelBaseline = 987;

// panel boxes in pixels
const pmBox = { left: 124, right: 1003, top: 43, bottom: 905 };
const cmdBox = { left: 1166, right: 1994, top: 49, bottom: 905 };

const pmX = d3.scaleLinear().domain([3, -3]).range([pmBox.left, pmBox.right]);
const pmY = d3.scaleLinear().domain([-3, 3]).range([pmBox.bottom, pmBox.top]);
const cmdX = d3.scaleLinear().domain([0, 5]).range([cmdBox.left, cmdBox.right]);
const cmdY = d3.scaleLinear().domain([12, 24.5]).range([cmdBox.top, cmdBox.bottom]);

function addClip(id, box) {
  svg.append('clipPath').attr('id', id)
    .append('rect')
    .attr('x', box.left).attr('y', box.top)
    .attr('width', box.right - box.left)
    .attr('height', box.bottom - box.top);
}

// ticks point inward on all four sides, labels only bottom/left
function drawAxes(box, x, y, xTicks, yTicks) {
  const fmt = d3.format('d');
  const styleAxis = (g) => {
    g.select('.domain').remove();
    g.selectAll('.tick line').attr('stroke', '#000').attr('stroke-width', 1);
    g.attr('font-family', "'DejaVu Sans', sans-serif").attr('font-size', tickFont);
    g.selectAll('.tick text').attr('fill', '#000');
  };
  svg.append('g')
    .attr('transform', `translate(0,${box.bottom})`)
    .call(d3.axisBottom(x).tickValues(xTicks).tickSize(-12).tickPadding(8).tickFormat(fmt))
    .call(styleAxis);
  svg.append('g')
    .attr('transform', `translate(0,${box.top})`)
    .call(d3.axisTop(x).tickValues(xTicks).tickSize(-12).tickFormat(''))
    .call(styleAxis);
  svg.append('g')
    .attr('transform', `translate(${box.left},0)`)
    .call(d3.axisLeft(y).tickValues(yTicks).tickSize(-12).tickPadding(7).tickFormat(fmt))
    .call(styleAxis);
  svg.append('g')
    .attr('transform', `translate(${box.right},0)`)
    .call(d3.axisRight(y).tickValues(yTicks).tickSize(-12).tickFormat(''))
    .call(styleAxis);

  svg.append('rect')
    .attr('x', box.left).attr('y', box.top)
    .attr('width', box.right - box.left)
    .attr('height', box.bottom - box.top)
    .attr('fill', 'none')
    .attr('stroke', '#000')
    .attr('stroke-width', 1.6);
}

// ****************** proper motion panel ******************
addClip('clip-pm', pmBox);
const pmStars = pmTop.concat(pmWings, pmCore, pmLower, pmFieldDense);

svg.append('g')
  .attr('clip-path', 'url(#clip-pm)')
  .selectAll('circle')
  .data(pmStars)
  .enter()
  .append('circle')
  .attr('cx', d => pmX(d[0]))
  .attr('cy', d => pmY(d[1]))
  .attr('r', 2.1)
  .attr('fill', '#000')
  .attr('fill-opacity', 0.6);

// selection radii around the cluster mean motion
svg.append('g')
  .selectAll('ellipse')
  .data(ringRadii)
  .enter()
  .append('ellipse')
  .attr('cx', pmX(ringCenter[0]))
  .attr('cy', pmY(ringCenter[1]))
  .attr('rx', r => Math.abs(pmX(ringCenter[0] + r) - pmX(ringCenter[0])))
  .attr('ry', r => Math.abs(pmY(ringCenter[1] + r) - pmY(ringCenter[1])))
  .attr('fill', 'none')
  .attr('stroke', '#ff0000')
  .attr('stroke-width', 4);

drawAxes(pmBox, pmX, pmY, pmTicks, pmTicks);

const pmXLabel = svg.append('text')
  .attr('x', (pmBox.left + pmBox.right) / 2)
  .attr('y', xLabelBaseline)
  .attr('text-anchor', 'middle')
  .attr('font-size', labelFont);
pmXLabel.append('tspan').attr('font-style', 'italic').text('μ');
pmXLabel.append('tspan').attr('font-style', 'italic').attr('font-size', 28).attr('dy', 8).text('α');
pmXLabel.append('tspan').attr('dy', -8).attr('dx', 4).text('cos');
pmXLabel.append('tspan').attr('font-style', 'italic').text('δ');
pmXLabel.append('tspan').text(' (mas/yr)');

const pmYLabel = svg.append('text')
  .attr('transform', `translate(50,${(pmBox.top + pmBox.bottom) / 2}) rotate(-90)`)
  .attr('text-anchor', 'middle')
  .attr('font-size', labelFont);
pmYLabel.append('tspan').attr('font-style', 'italic').text('μ');
pmYLabel.append('tspan').attr('font-style', 'italic').attr('font-size', 28).attr('dy', 9).text('δ');
pmYLabel.append('tspan').attr('dy', -9).text(' (mas/yr)');

// ****************** colour-magnitude panel ******************
addClip('clip-cmd', cmdBox);

svg.append('g')
  .attr('clip-path', 'url(#clip-cmd)')
  .selectAll('circle')
  .data(cmdStars)
  .enter()
  .append('circle')
  .attr('cx', d => cmdX(d[0]))
  .attr('cy', d => cmdY(d[1]))
  .attr('r', 3.5)
  .attr('fill', '#000');

drawAxes(cmdBox, cmdX, cmdY, colorTicks, magTicks);

svg.append('text')
  .attr('x', (cmdBox.left + cmdBox.right) / 2)
  .attr('y', 38)
  .attr('text-anchor', 'middle')
  .attr('font-size', labelFont)
  .text('Pclust > 0.7');

svg.append('text')
  .attr('x', (cmdBox.left + cmdBox.right) / 2)
  .attr('y', xLabelBaseline)
  .attr('text-anchor', 'middle')
  .attr('font-size', labelFont)
  .text('F127M - F153M');

svg.append('text')
  .attr('transform', `translate(1108,${(cmdBox.top + cmdBox.bottom) / 2}) rotate(-90)`)
  .attr('text-anchor', 'middle')
  .attr('font-size', labelFont)
  .text('F153M');
</script>
</body>
</html>
